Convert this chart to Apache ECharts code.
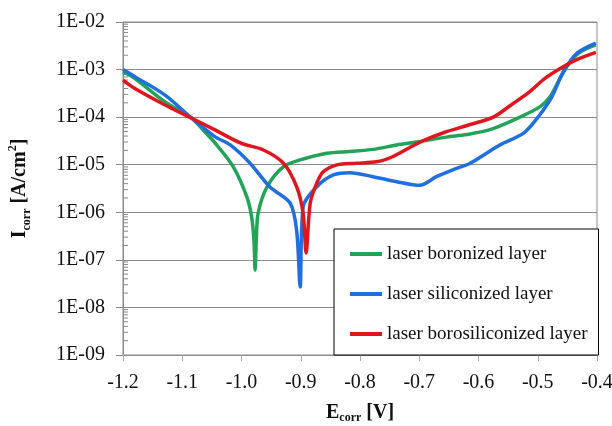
<!DOCTYPE html>
<html><head><meta charset="utf-8">
<script src="https://cdn.jsdelivr.net/npm/echarts@6/dist/echarts.min.js"></script>
<style>html,body{margin:0;padding:0;background:#fff}#c{width:612px;height:426px}</style>
</head><body><div id="c"></div>
<script>
// ---- data (E [V], I [A/cm2]) ----
const seriesNames = ['laser boronized layer', 'laser siliconized layer', 'laser borosiliconized layer'];
const boronized = [
  [-1.2, 9.0e-4], [-1.18, 6.5e-4], [-1.129, 2.1e-4], [-1.084, 9.6e-5], [-1.062, 4.9e-5],
  [-1.045, 2.9e-5], [-1.014, 9.1e-6], [-0.991, 2.1e-6], [-0.983, 8.1e-7], [-0.979, 2.6e-7],
  [-0.977, 6.1e-8], [-0.975, 2.6e-7], [-0.972, 9.5e-7], [-0.957, 3.4e-6], [-0.929, 9.1e-6],
  [-0.901, 1.26e-5], [-0.856, 1.74e-5], [-0.817, 1.9e-5], [-0.778, 2.1e-5], [-0.738, 2.6e-5],
  [-0.704, 3.0e-5], [-0.654, 3.8e-5], [-0.620, 4.3e-5], [-0.578, 5.6e-5], [-0.530, 1.0e-4],
  [-0.496, 1.66e-4], [-0.479, 2.7e-4], [-0.464, 6.0e-4], [-0.448, 1.3e-3], [-0.429, 2.3e-3],
  [-0.402, 3.3e-3]
];
const siliconized = [
  [-1.2, 1.0e-3], [-1.18, 7.1e-4], [-1.129, 2.9e-4], [-1.084, 9.5e-5], [-1.045, 3.9e-5],
  [-1.019, 2.6e-5], [-0.986, 1.09e-5], [-0.952, 3.4e-6], [-0.918, 1.57e-6], [-0.907, 4.2e-7],
  [-0.901, 2.7e-8], [-0.896, 1.31e-6], [-0.873, 3.45e-6], [-0.845, 6.1e-6], [-0.817, 6.8e-6],
  [-0.778, 5.6e-6], [-0.738, 4.4e-6], [-0.699, 3.7e-6], [-0.671, 5.6e-6], [-0.637, 8.4e-6],
  [-0.614, 1.07e-5], [-0.564, 2.6e-5], [-0.524, 4.6e-5], [-0.499, 1.02e-4], [-0.476, 2.7e-4],
  [-0.457, 8.9e-4], [-0.434, 2.2e-3], [-0.402, 3.6e-3]
];
const borosiliconized = [
  [-1.2, 6.0e-4], [-1.18, 4.0e-4], [-1.129, 1.8e-4], [-1.084, 9.5e-5], [-1.045, 5.4e-5],
  [-1.000, 2.8e-5], [-0.963, 2.04e-5], [-0.929, 1.07e-5], [-0.907, 3.45e-6], [-0.896, 9.5e-7],
  [-0.891, 1.4e-7], [-0.884, 1.55e-6], [-0.873, 4.1e-6], [-0.862, 7.1e-6], [-0.839, 9.9e-6],
  [-0.806, 1.07e-5], [-0.772, 1.15e-5], [-0.749, 1.4e-5], [-0.716, 2.3e-5], [-0.693, 3.2e-5],
  [-0.659, 4.7e-5], [-0.614, 7.0e-5], [-0.575, 1.0e-4], [-0.545, 1.8e-4], [-0.515, 3.3e-4],
  [-0.490, 6.2e-4], [-0.465, 1.0e-3], [-0.435, 1.6e-3], [-0.402, 2.3e-3]
];
const seriesData = [boronized, siliconized, borosiliconized];
const seriesColors = ['#22a358', '#1f6fdf', '#e0161e'];
// axis ticks
const xMin = -1.2, xMax = -0.4, xStep = 0.1;
const yMin = 1e-9, yMax = 1e-2;
const minorMultipliers = [2, 3, 4, 5, 6, 7, 8, 9];
const decadeExponents = [-9, -8, -7, -6, -5, -4, -3];

const minorTicks = [];
decadeExponents.forEach(e => minorMultipliers.forEach(m => minorTicks.push([xMin, m * Math.pow(10, e)])));

const FONT = "Liberation Serif";
const chart = echarts.init(document.getElementById('c'), null, {renderer: 'canvas'});

const series = seriesNames.map((n, i) => ({
  name: n, type: 'line', data: seriesData[i], showSymbol: false, smooth: 0.3,
  lineStyle: {color: seriesColors[i], width: 3.5}, itemStyle: {color: seriesColors[i]}, z: 3
}));
series.push({
  type: 'custom', silent: true, data: minorTicks, z: 1,
  renderItem: (params, api) => {
    const p = api.coord([api.value(0), api.value(1)]);
    return {type: 'line', shape: {x1: p[0], y1: p[1], x2: p[0] + 5, y2: p[1]}, style: {stroke: '#888', lineWidth: 1}};
  }
});

chart.setOption({
  animation: false,
  backgroundColor: '#fff',
  grid: {left: 123, right: 15, top: 22, bottom: 71, containLabel: false, outerBoundsMode: 'none',
    show: true, borderColor: '#8c8c8c', borderWidth: 1},
  legend: {
    data: seriesNames, orient: 'vertical', left: 334, top: 229,
    backgroundColor: '#fff', borderColor: '#000', borderWidth: 1,
    padding: [15, 11, 11, 16], itemGap: 20, itemWidth: 32, itemHeight: 4, icon: 'rect',
    textStyle: {fontFamily: FONT, fontSize: 19, color: '#111', lineHeight: 20}
  },
  xAxis: {
    type: 'value', min: xMin, max: xMax, interval: xStep,
    axisLine: {lineStyle: {color: '#8c8c8c'}},
    axisTick: {show: true, length: 6, lineStyle: {color: '#aaa'}},
    splitLine: {show: false},
    axisLabel: {fontFamily: FONT, fontSize: 20, color: '#111', margin: 18,
      formatter: v => v.toFixed(1)},
    name: '{b|E}{s|corr}{b| [V]}', nameLocation: 'middle', nameGap: 47,
    nameTextStyle: {rich: {
      b: {fontFamily: FONT, fontSize: 20, fontWeight: 'bold', color: '#111', lineHeight: 22},
      s: {fontFamily: FONT, fontSize: 12, fontWeight: 'bold', color: '#111', verticalAlign: 'bottom', lineHeight: 12}
    }}
  },
  yAxis: {
    type: 'log', logBase: 10, min: yMin, max: yMax, splitNumber: 7,
    axisLine: {show: true, lineStyle: {color: '#8c8c8c'}},
    axisTick: {show: true, length: 7, lineStyle: {color: '#8c8c8c'}},
    splitLine: {show: true, lineStyle: {color: '#8c8c8c', width: 1}},
    axisLabel: {fontFamily: FONT, fontSize: 20, color: '#111', margin: 18,
      formatter: v => { const e = Math.round(Math.log10(v)); return '1E' + (e < 0 ? '-' : '+') + String(Math.abs(e)).padStart(2, '0'); }},
    name: '{b|I}{s|corr}{b| [A/cm}{p|2}{b|]}', nameLocation: 'middle', nameGap: 90, nameRotate: 90,
    nameTextStyle: {rich: {
      b: {fontFamily: FONT, fontSize: 20, fontWeight: 'bold', color: '#111', lineHeight: 26},
      s: {fontFamily: FONT, fontSize: 12, fontWeight: 'bold', color: '#111', verticalAlign: 'bottom', lineHeight: 14},
      p: {fontFamily: FONT, fontSize: 12, fontWeight: 'bold', color: '#111', verticalAlign: 'top', lineHeight: 14}
    }}
  },
  series: series
});
</script></body></html>
